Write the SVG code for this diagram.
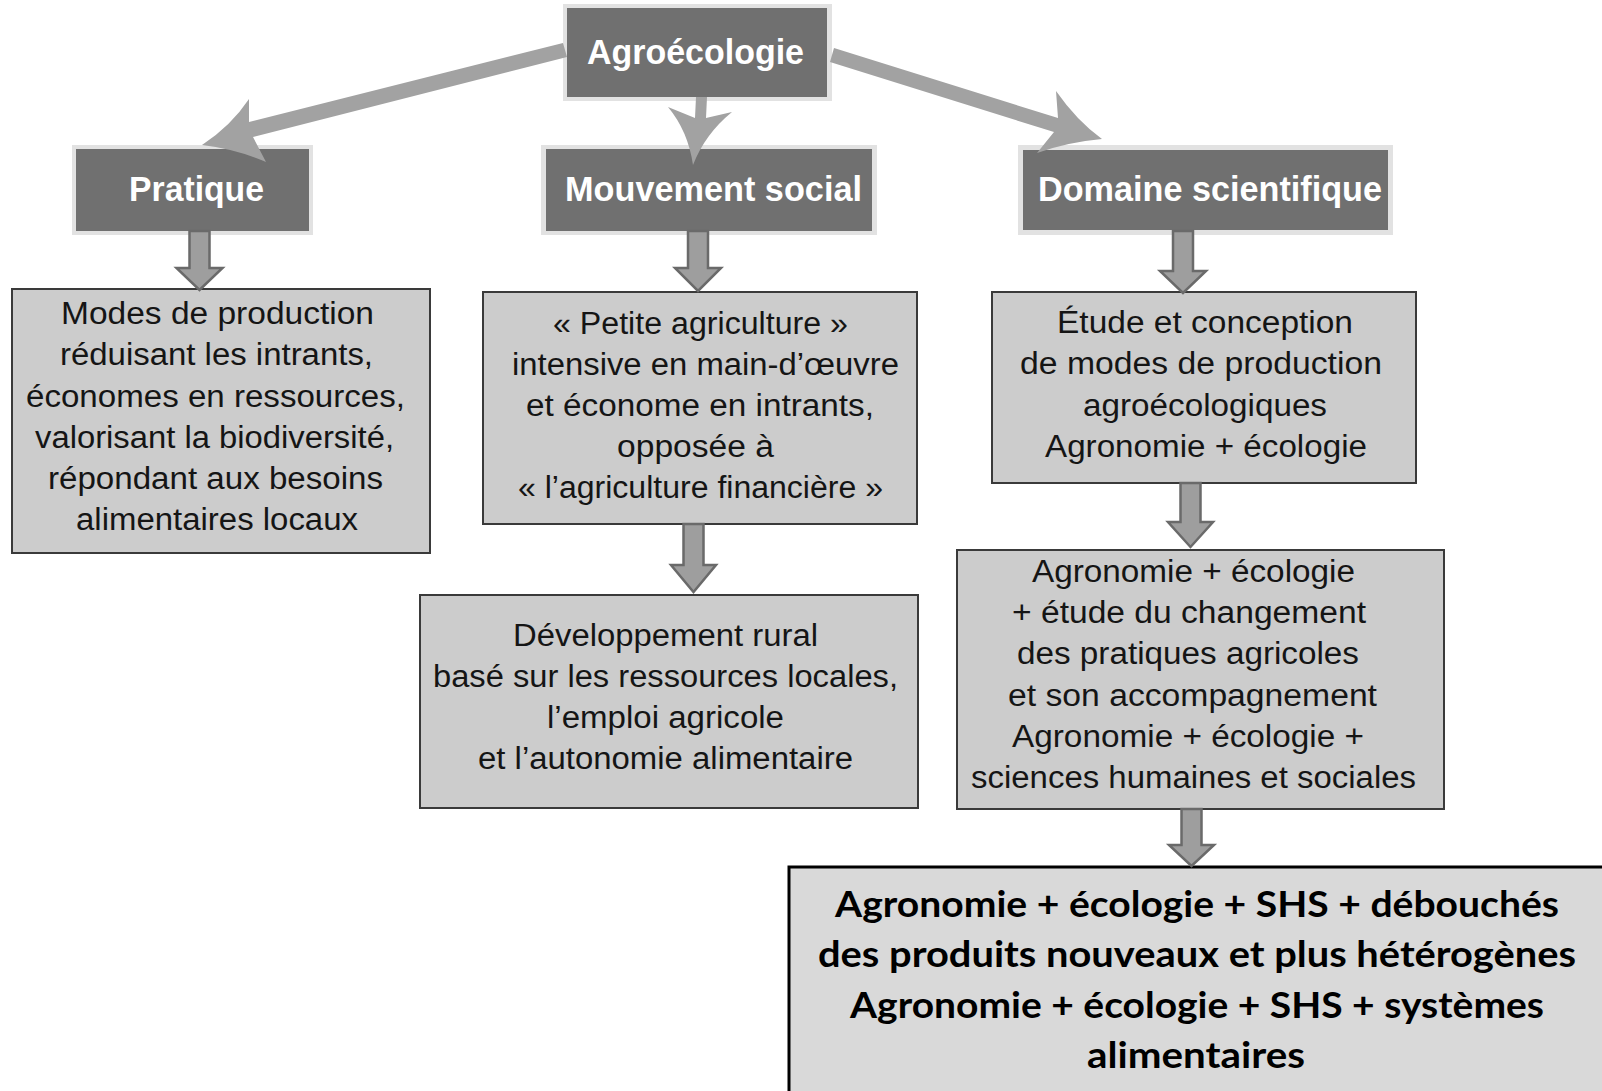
<svg xmlns="http://www.w3.org/2000/svg" width="1602" height="1091" viewBox="0 0 1602 1091">
<style>
.hdr-out{fill:#e2e2e2}
.hdr{fill:#707070}
.hdr-t{font-family:"Liberation Sans",Arial,sans-serif;font-weight:bold;font-size:34.5px;fill:#ffffff}
.box{fill:#cccccc;stroke:#3a3a3a;stroke-width:2}
.txt{font-family:"Liberation Sans",Arial,sans-serif;font-size:31px;fill:#151515}
.fin{fill:#d9d9d9;stroke:#000000;stroke-width:3}
.fin-t{font-family:Lato,"Open Sans",sans-serif;font-weight:bold;font-size:36px;fill:#000000}
.big{fill:#a2a2a2}
.blk{fill:#9e9e9e;stroke:#6a6a6a;stroke-width:2.5;stroke-linejoin:miter}
</style>
<rect width="1602" height="1091" fill="#ffffff"/>

<g id="node-agroecologie">
<rect class="hdr-out" x="563" y="4" width="269" height="97"/>
<rect class="hdr" x="567" y="8" width="260" height="89"/>
<text class="hdr-t" x="587" y="64" textLength="217" lengthAdjust="spacingAndGlyphs">Agroécologie</text>
</g>

<g id="node-pratique">
<rect class="hdr-out" x="72" y="145" width="241" height="90"/>
<rect class="hdr" x="76" y="149" width="233" height="82"/>
<text class="hdr-t" x="129" y="201" textLength="135" lengthAdjust="spacingAndGlyphs">Pratique</text>
</g>

<g id="node-mouvement">
<rect class="hdr-out" x="541" y="145" width="336" height="90"/>
<rect class="hdr" x="546" y="149" width="326" height="82"/>
<text class="hdr-t" x="565" y="201" textLength="297" lengthAdjust="spacingAndGlyphs">Mouvement social</text>
</g>

<g id="node-domaine">
<rect class="hdr-out" x="1018" y="145" width="375" height="90"/>
<rect class="hdr" x="1023" y="150" width="365" height="80"/>
<text class="hdr-t" x="1038" y="201" textLength="344" lengthAdjust="spacingAndGlyphs">Domaine scientifique</text>
</g>

<g id="node-modes">
<rect class="box" x="12" y="289" width="418" height="264"/>
<text class="txt" x="61" y="324" textLength="313" lengthAdjust="spacingAndGlyphs">Modes de production</text>
<text class="txt" x="60" y="365" textLength="313" lengthAdjust="spacingAndGlyphs">réduisant les intrants,</text>
<text class="txt" x="26" y="406.5" textLength="379" lengthAdjust="spacingAndGlyphs">économes en ressources,</text>
<text class="txt" x="35" y="448" textLength="359" lengthAdjust="spacingAndGlyphs">valorisant la biodiversité,</text>
<text class="txt" x="48" y="489" textLength="335" lengthAdjust="spacingAndGlyphs">répondant aux besoins</text>
<text class="txt" x="76" y="530" textLength="282" lengthAdjust="spacingAndGlyphs">alimentaires locaux</text>
</g>

<g id="node-petite">
<rect class="box" x="483" y="292" width="434" height="232"/>
<text class="txt" x="553" y="334" textLength="295" lengthAdjust="spacingAndGlyphs">« Petite agriculture »</text>
<text class="txt" x="512" y="375" textLength="387" lengthAdjust="spacingAndGlyphs">intensive en main-d’œuvre</text>
<text class="txt" x="526" y="416" textLength="348" lengthAdjust="spacingAndGlyphs">et économe en intrants,</text>
<text class="txt" x="617" y="457" textLength="157" lengthAdjust="spacingAndGlyphs">opposée à</text>
<text class="txt" x="518" y="498" textLength="365" lengthAdjust="spacingAndGlyphs">« l’agriculture financière »</text>
</g>

<g id="node-developpement">
<rect class="box" x="420" y="595" width="498" height="213"/>
<text class="txt" x="513" y="645.5" textLength="305" lengthAdjust="spacingAndGlyphs">Développement rural</text>
<text class="txt" x="433" y="686.7" textLength="465" lengthAdjust="spacingAndGlyphs">basé sur les ressources locales,</text>
<text class="txt" x="547" y="727.9" textLength="237" lengthAdjust="spacingAndGlyphs">l’emploi agricole</text>
<text class="txt" x="478" y="769" textLength="375" lengthAdjust="spacingAndGlyphs">et l’autonomie alimentaire</text>
</g>

<g id="node-etude">
<rect class="box" x="992" y="292" width="424" height="191"/>
<text class="txt" x="1057" y="333" textLength="296" lengthAdjust="spacingAndGlyphs">Étude et conception</text>
<text class="txt" x="1020" y="374.3" textLength="362" lengthAdjust="spacingAndGlyphs">de modes de production</text>
<text class="txt" x="1083" y="415.6" textLength="244" lengthAdjust="spacingAndGlyphs">agroécologiques</text>
<text class="txt" x="1045" y="457" textLength="322" lengthAdjust="spacingAndGlyphs">Agronomie + écologie</text>
</g>

<g id="node-agronomie-shs">
<rect class="box" x="957" y="550" width="487" height="259"/>
<text class="txt" x="1032" y="582" textLength="323" lengthAdjust="spacingAndGlyphs">Agronomie + écologie</text>
<text class="txt" x="1012" y="623.2" textLength="354" lengthAdjust="spacingAndGlyphs">+ étude du changement</text>
<text class="txt" x="1017" y="664.4" textLength="342" lengthAdjust="spacingAndGlyphs">des pratiques agricoles</text>
<text class="txt" x="1008" y="705.6" textLength="369" lengthAdjust="spacingAndGlyphs">et son accompagnement</text>
<text class="txt" x="1012" y="746.8" textLength="352" lengthAdjust="spacingAndGlyphs">Agronomie + écologie +</text>
<text class="txt" x="971" y="788" textLength="445" lengthAdjust="spacingAndGlyphs">sciences humaines et sociales</text>
</g>

<g id="node-final">
<rect class="fin" x="789" y="867" width="830" height="240"/>
<text class="fin-t" x="835" y="917" textLength="724" lengthAdjust="spacingAndGlyphs">Agronomie + écologie + SHS + débouchés</text>
<text class="fin-t" x="818" y="967" textLength="758" lengthAdjust="spacingAndGlyphs">des produits nouveaux et plus hétérogènes</text>
<text class="fin-t" x="850" y="1018" textLength="694" lengthAdjust="spacingAndGlyphs">Agronomie + écologie + SHS + systèmes</text>
<text class="fin-t" x="1087" y="1068" textLength="218" lengthAdjust="spacingAndGlyphs">alimentaires</text>
</g>

<g id="connectors">
<path class="big" d="M563,43 L249,122 L249,99 Q231,126 202,145 Q236,149 266,162 L253,137 L567,57 Z"/>
<path class="big" d="M696,97 L707,97 L706,118 L732,112 Q705,134 693,165 Q688,131 668,107 L695,118 Z"/>
<path class="big" d="M834,48 L1058,118 L1056,91 Q1077,121 1102,139 Q1068,142 1037,153 L1054,132 L830,62 Z"/>
<path class="blk" d="M189.5,231 H209.5 V268 H222.5 L199.5,290 L176.5,268 H189.5 Z"/>
<path class="blk" d="M688,231 H708 V268 H721 L698,291 L675,268 H688 Z"/>
<path class="blk" d="M1173,231 H1193 V271 H1206 L1183,293 L1160,271 H1173 Z"/>
<path class="blk" d="M683.5,524 H703.5 V565 H716 L693.5,592 L671,565 H683.5 Z"/>
<path class="blk" d="M1180.5,483 H1200.5 V522 H1213 L1190.5,547 L1168,522 H1180.5 Z"/>
<path class="blk" d="M1181.5,809 H1201.5 V845 H1214 L1191.5,866 L1169,845 H1181.5 Z"/>
</g>
</svg>
